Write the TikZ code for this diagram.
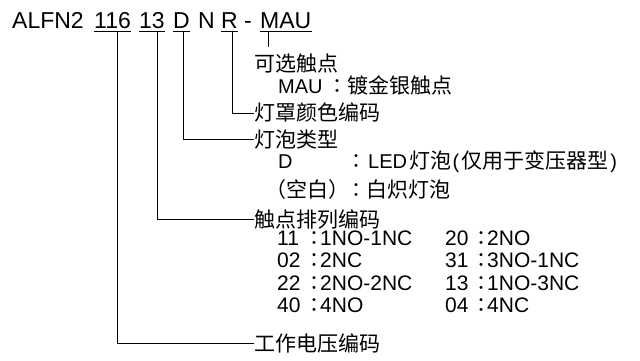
\documentclass[tikz,border=0pt]{standalone}
\usepackage{fontspec}
\setmainfont{Liberation Sans}
\newfontfamily\cjk{Noto Sans CJK SC}
\newfontfamily\cjkjp{Noto Sans CJK JP}
\newcommand\zhf{\cjk\fontsize{21}{24}\selectfont}
\begin{document}
\begin{tikzpicture}[x=1pt,y=-1pt,
  hdr/.style={inner sep=0pt, anchor=base west, font=\fontsize{23}{27}\selectfont},
  lat/.style={inner sep=0pt, anchor=base west, font=\fontsize{20}{24}\selectfont},
  tab/.style={inner sep=0pt, anchor=base west, font=\fontsize{21}{24}\selectfont},
  zh/.style={inner sep=0pt, anchor=base west, font=\zhf},
  colon/.style={inner sep=0pt, anchor=base, font=\cjkjp\fontsize{20}{24}\selectfont},
  conn/.style={line width=0.9pt},
  ul/.style={line width=0.9pt}]
\useasboundingbox (0,0) rectangle (640,361);
% header tokens
\node[hdr] (alfn) at (12,28.3) {ALFN2};
\node[hdr] (t116) at (94,28.3) {116};
\node[hdr] (t13) at (139,28.3) {13};
\node[hdr] (tD) at (173,28.3) {D};
\node[hdr] (tN) at (198,28.3) {N};
\node[hdr] (tR) at (221,28.3) {R};
\node[hdr] (tdash) at (244,28.3) {-};
\node[hdr] (tMAU) at (260,28.3) {MAU};
\foreach \t in {t116,t13,tD,tR,tMAU}
  \draw[ul] ([yshift=-3.4pt]\t.base west) -- ([yshift=-3.4pt]\t.base east);
\coordinate (v116) at (117,31.7);
\coordinate (v13) at (157,31.7);
\coordinate (vD) at (183,31.7);
\coordinate (vR) at (232,31.7);
\coordinate (vMAU) at (268,31.7);
\coordinate (sMAU) at (268,47);
% optional contacts
\node[zh] (opt) at (254,71) {可选触点};
\node[lat] (optk) at (278,93) {MAU};
\node[colon] (optc) at (337,93) {：};
\node[zh] (optv) at (347,93) {镀金银触点};
% lens colour
\node[zh] (lens) at (254,121) {灯罩颜色编码};
% bulb
\node[zh] (bulb) at (254,147) {灯泡类型};
\node[lat] (bD) at (278,168.5) {D};
\node[colon] (bDc) at (356,168.5) {：};
\node[lat] (bDv) at (368,168.5) {LED\hspace{2pt}{\zhf 灯泡}\hspace{1.5pt}(\hspace{2.5pt}{\zhf 仅用于变压器型}\hspace{1.5pt})};
\node[zh] (bW) at (265,197) {（空白）};
\node[colon] (bWc) at (356,197) {：};
\node[zh] (bWv) at (366,197) {白炽灯泡};
% contacts arrangement
\node[zh] (cont) at (254,227) {触点排列编码};
\node[tab] (c1a) at (277,245) {11};   \node[colon] (c1ac) at (314,245) {：};   \node[tab] (c1av) at (320,245) {1NO-1NC};
\node[tab] (c2a) at (277,267.5) {02}; \node[colon] (c2ac) at (314,267.5) {：}; \node[tab] (c2av) at (320,267.5) {2NC};
\node[tab] (c3a) at (277,290) {22};   \node[colon] (c3ac) at (314,290) {：};   \node[tab] (c3av) at (320,290) {2NO-2NC};
\node[tab] (c4a) at (277,312.5) {40}; \node[colon] (c4ac) at (314,312.5) {：}; \node[tab] (c4av) at (320,312.5) {4NO};
\node[tab] (c1b) at (445,245) {20};   \node[colon] (c1bc) at (481,245) {：};   \node[tab] (c1bv) at (487,245) {2NO};
\node[tab] (c2b) at (445,267.5) {31}; \node[colon] (c2bc) at (481,267.5) {：}; \node[tab] (c2bv) at (487,267.5) {3NO-1NC};
\node[tab] (c3b) at (445,290) {13};   \node[colon] (c3bc) at (481,290) {：};   \node[tab] (c3bv) at (487,290) {1NO-3NC};
\node[tab] (c4b) at (445,312.5) {04}; \node[colon] (c4bc) at (481,312.5) {：}; \node[tab] (c4bv) at (487,312.5) {4NC};
% voltage
\node[zh] (volt) at (254,351) {工作电压编码};
% connectors
\draw[conn] (v116) |- (volt.west);
\draw[conn] (v13) |- (cont.west);
\draw[conn] (vD) |- (bulb.west);
\draw[conn] (vR) |- (lens.west);
\draw[conn] (vMAU) -- (sMAU);
\end{tikzpicture}
\end{document}
